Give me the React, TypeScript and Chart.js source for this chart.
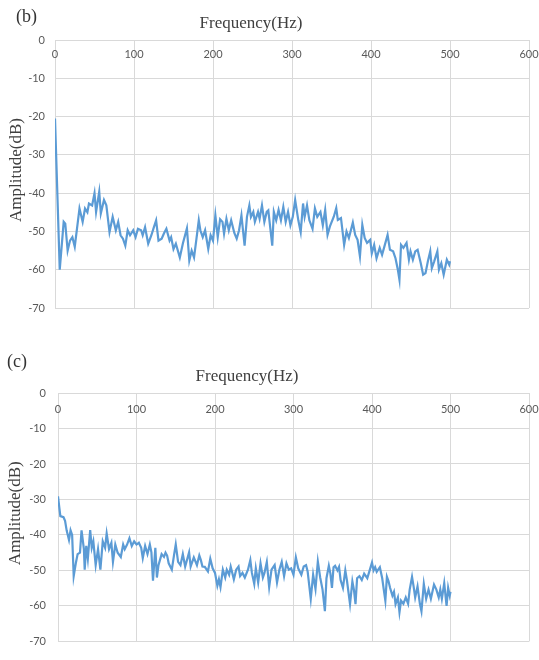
import React, { useEffect, useRef } from "react";
import { Chart, registerables } from "chart.js";

Chart.register(...registerables);

const X_TICKS = [0, 100, 200, 300, 400, 500, 600];
const X_TITLE = "Frequency(Hz)";
const Y_TITLE = "Amplitude(dB)";

// Panel (b)
const freqB = [0, 6, 11, 13, 16, 19, 22, 25, 28, 31, 35, 38, 41, 43, 47, 50, 52, 56, 58, 62, 65, 69, 73, 77, 80, 83, 86, 89, 92, 95, 99, 102, 105, 109, 111, 114, 118, 122, 125, 128, 131, 135, 138, 141, 145, 147, 150, 153, 158, 162, 167, 170, 173, 176, 179, 182, 184, 187, 190, 194, 197, 200, 203, 206, 209, 212, 214, 217, 220, 223, 227, 230, 233, 236, 240, 243, 246, 248, 251, 253, 257, 259, 262, 265, 268, 270, 275, 277, 280, 283, 286, 289, 292, 295, 298, 301, 304, 308, 311, 314, 316, 319, 322, 326, 329, 332, 336, 339, 342, 345, 348, 353, 356, 358, 362, 366, 369, 372, 377, 380, 383, 386, 389, 392, 395, 399, 401, 404, 407, 411, 414, 417, 421, 424, 428, 431, 434, 436, 438, 441, 445, 448, 450, 453, 456, 459, 463, 466, 469, 472, 475, 477, 480, 484, 486, 489, 492, 496, 499, 500];
const ampB = [-20.5, -60, -47.5, -48, -55, -52.4, -51.5, -54, -49, -44, -47.5, -44, -45, -42.7, -43.2, -40, -44.9, -39.6, -45.3, -41.8, -43.2, -50.2, -46.2, -49.7, -47.5, -51, -51.9, -53.7, -49.7, -51, -49.7, -51.5, -49.3, -49.7, -51, -48.9, -53.2, -51, -49, -47.1, -52.4, -51.9, -50.5, -49.3, -52.4, -51.5, -54.6, -53.2, -56.8, -53, -49.2, -57.6, -55, -56.8, -52, -47.1, -49.7, -51.5, -49.7, -54.6, -51, -52.4, -45.8, -51.5, -46.8, -47.5, -50.6, -46.7, -49.7, -47.1, -50.4, -51.9, -49.7, -45.8, -53.7, -46.2, -43.2, -46.2, -44.9, -47.5, -44.9, -46.7, -43.2, -47.5, -44.9, -44.5, -53.7, -44.9, -47.1, -44.4, -47.1, -43.6, -47.5, -44.9, -48.4, -46.2, -41.8, -47.1, -50.2, -42.7, -46.2, -43.2, -47.1, -49.3, -44, -46.2, -44.9, -48.4, -44.4, -50.9, -48.7, -46.1, -43.9, -47, -46.5, -53.5, -50, -51.7, -47.7, -50.9, -52.2, -56.5, -48.3, -51.7, -53, -52.2, -55.7, -53.5, -57, -54.3, -56.1, -53.9, -50.9, -54.8, -55.2, -57, -60, -62.6, -53.5, -54.3, -53, -57.4, -55.2, -57.4, -55.2, -54.8, -58.3, -61.3, -60.9, -57.8, -55.2, -59.6, -57.8, -55.2, -60, -58.3, -61.3, -57.4, -58.7, -57.8];

// Panel (c)
const freqC = [0, 2, 3, 7, 9, 11, 14, 16, 18, 20, 23, 25, 28, 30, 33, 34, 36, 38, 41, 43, 45, 48, 51, 54, 57, 60, 62, 65, 68, 70, 73, 76, 80, 83, 85, 88, 91, 94, 97, 100, 103, 106, 108, 111, 114, 117, 119, 121, 124, 126, 128, 132, 135, 137, 139, 141, 145, 148, 150, 153, 156, 159, 162, 165, 167, 169, 173, 177, 180, 182, 184, 187, 191, 194, 197, 200, 203, 205, 207, 210, 213, 215, 218, 220, 224, 227, 230, 232, 235, 238, 242, 245, 247, 250, 252, 255, 258, 261, 263, 266, 269, 272, 276, 279, 282, 285, 288, 291, 294, 297, 300, 303, 306, 310, 313, 316, 318, 322, 325, 328, 331, 334, 337, 340, 342, 345, 347, 349, 351, 353, 356, 358, 360, 363, 366, 368, 372, 375, 377, 379, 381, 384, 387, 390, 394, 397, 400, 402, 404, 406, 410, 413, 415, 417, 419, 421, 423, 426, 428, 430, 433, 435, 437, 440, 443, 446, 448, 451, 453, 455, 458, 461, 463, 466, 469, 472, 475, 479, 482, 485, 487, 489, 492, 495, 497, 499, 500];
const ampC = [-29.1, -32.9, -34.7, -35, -36, -38.7, -41.4, -38.7, -40, -51.6, -47.6, -45.4, -45, -38.7, -44, -49.8, -43.1, -46.7, -38.6, -43.6, -41.8, -48.5, -44, -49.8, -41.8, -43.6, -39.6, -44, -42.2, -47.6, -42.7, -45, -46.2, -42.7, -44, -42.7, -40.9, -43.1, -41.8, -42.7, -42.2, -43.6, -46.5, -43.1, -45.4, -42.7, -44.9, -52.9, -43.6, -52, -48.5, -45.4, -46.2, -45, -45.8, -48, -49.8, -45.4, -42.7, -47.6, -48.5, -45.4, -48.9, -46.5, -44.9, -48.9, -46.3, -48.5, -45.8, -47.1, -48.9, -49, -50.3, -46.7, -49.4, -50.7, -54.3, -52.5, -54.7, -49.8, -52, -49.8, -51.2, -48.9, -52.5, -49.8, -48.9, -51.6, -50.7, -52, -49.8, -47.1, -50.7, -53.8, -49.4, -53.4, -48, -52, -50.7, -47.6, -54.7, -49.8, -48.5, -53.4, -49.8, -47.6, -51.6, -48, -49.8, -49.4, -51.2, -46.3, -49.4, -51.2, -48.9, -48.5, -50.3, -58, -51.2, -55.2, -47.5, -52, -55.4, -61.5, -52.2, -48.7, -50.9, -54.9, -49.1, -48.7, -50, -49, -52.7, -54.9, -50, -52.7, -59.5, -53.1, -55.5, -59.5, -52.2, -51.6, -52.7, -50.9, -52.2, -50, -47.8, -50, -49.1, -50.4, -49.1, -52.2, -55.4, -58.5, -51.8, -53, -54.9, -57.1, -56, -59.5, -57.6, -61.8, -58.5, -59.4, -57.6, -59.4, -55.4, -51.8, -54.5, -57.6, -54.5, -59.4, -61.5, -53.8, -58, -55.4, -58, -54, -55.4, -57.6, -55.4, -58, -53.6, -60, -54.9, -57.1, -56];

type PanelCfg = {
  label: string;
  freq: number[];
  amp: number[];
  top: number;
  padTop: number;
  padBottom: number;
  yWidth: number;
  yPad: number;
  xLabelOffset: number;
  titleX: number;
  titleY: number;
  yTitleX: number;
  yTitleDy: number;
  labelX: number;
  labelY: number;
};

const W = 539;
const H = 330;

function Panel({ cfg }: { cfg: PanelCfg }) {
  const ref = useRef<HTMLCanvasElement | null>(null);
  useEffect(() => {
    if (!ref.current) return;
    const textPlugin = {
      id: "panelText",
      afterDraw(chart: any) {
        const { ctx, chartArea, scales } = chart;
        ctx.save();
        ctx.fillStyle = "#595959";
        ctx.font = "11px Lato";
        ctx.textAlign = "center";
        ctx.textBaseline = "middle";
        for (const v of X_TICKS) {
          ctx.fillText(String(v), scales.x.getPixelForValue(v), chartArea.top + cfg.xLabelOffset);
        }
        ctx.fillStyle = "#404040";
        ctx.font = '17px "Liberation Serif"';
        ctx.fillText(X_TITLE, cfg.titleX, cfg.titleY);
        ctx.save();
        ctx.translate(cfg.yTitleX, (chartArea.top + chartArea.bottom) / 2 + cfg.yTitleDy);
        ctx.rotate(-Math.PI / 2);
        ctx.fillText(Y_TITLE, 0, 0);
        ctx.restore();
        ctx.textAlign = "left";
        ctx.fillStyle = "#333333";
        ctx.font = '18px "Liberation Serif"';
        ctx.fillText(cfg.label, cfg.labelX, cfg.labelY);
        ctx.restore();
      },
    };
    const chart = new Chart(ref.current, {
      type: "line",
      data: {
        datasets: [
          {
            data: cfg.freq.map((x, i) => ({ x, y: cfg.amp[i] })),
            borderColor: "#5B9BD5",
            borderWidth: 2.2,
            pointRadius: 0,
            tension: 0,
            fill: false,
          },
        ],
      },
      options: {
        responsive: false,
        animation: false,
        layout: { padding: { left: 0, top: cfg.padTop, right: 10, bottom: cfg.padBottom } },
        plugins: { legend: { display: false }, tooltip: { enabled: false }, title: { display: false } },
        scales: {
          x: {
            type: "linear",
            position: "top",
            min: 0,
            max: 600,
            ticks: { display: false, stepSize: 100 },
            grid: { color: "#d9d9d9", drawTicks: false },
            border: { display: false },
            afterFit(s: any) {
              s.height = 0;
            },
          },
          y: {
            type: "linear",
            min: -70,
            max: 0,
            ticks: { stepSize: 10, padding: cfg.yPad, color: "#595959", font: { family: "Lato", size: 11 } },
            grid: { color: "#d9d9d9", drawTicks: false },
            border: { display: false },
            afterFit(s: any) {
              s.width = cfg.yWidth;
            },
          },
        },
      },
      plugins: [textPlugin],
    } as any);
    return () => chart.destroy();
  }, [cfg]);
  return (
    <div style={{ position: "absolute", left: 0, top: cfg.top, width: W, height: H }}>
      <canvas ref={ref} width={W} height={H} style={{ width: W, height: H, display: "block" }} />
    </div>
  );
}

const panelB: PanelCfg = {
  label: "(b)",
  freq: freqB,
  amp: ampB,
  top: 0,
  padTop: 40,
  padBottom: 22,
  yWidth: 55,
  yPad: 10,
  xLabelOffset: 14,
  titleX: 251,
  titleY: 24,
  yTitleX: 17,
  yTitleDy: -4,
  labelX: 16,
  labelY: 17,
};

const panelC: PanelCfg = {
  label: "(c)",
  freq: freqC,
  amp: ampC,
  top: 330,
  padTop: 63,
  padBottom: 7,
  yWidth: 58,
  yPad: 12,
  xLabelOffset: 16,
  titleX: 247,
  titleY: 47,
  yTitleX: 16,
  yTitleDy: -4,
  labelX: 7,
  labelY: 32,
};

export default function App() {
  return (
    <div style={{ position: "absolute", left: 0, top: 0, width: W, height: 660, background: "#ffffff" }}>
      <Panel cfg={panelB} />
      <Panel cfg={panelC} />
    </div>
  );
}
